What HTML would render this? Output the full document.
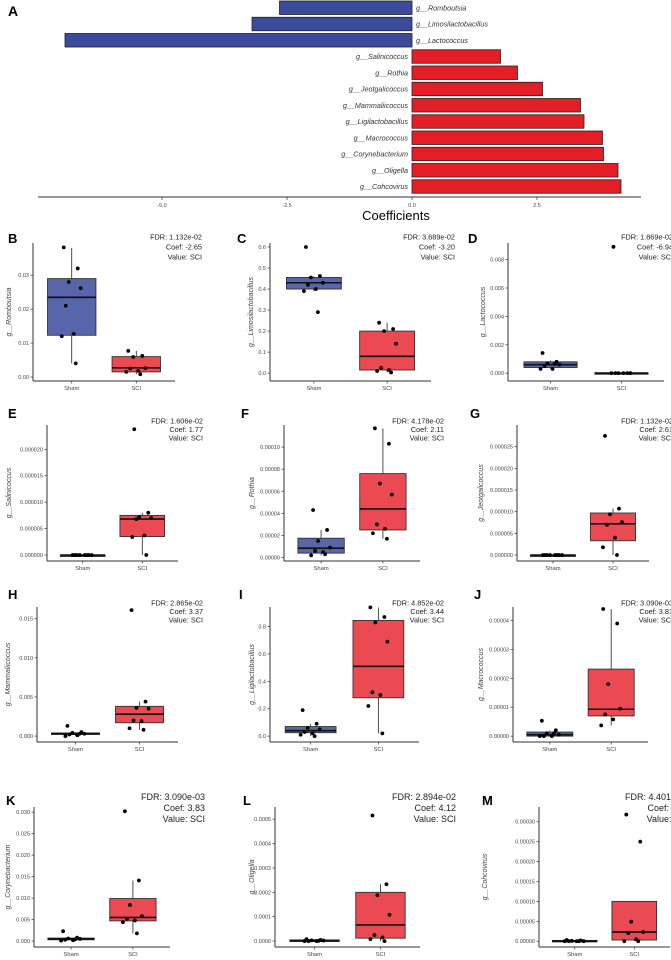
<!DOCTYPE html>
<html><head><meta charset="utf-8">
<style>
html,body{margin:0;padding:0;background:#fff;}
svg{display:block;font-family:"Liberation Sans",Arial,sans-serif;}
</style></head>
<body>
<svg id="fig" width="671" height="960" viewBox="0 0 671 960"></svg>
<script>
// ===== Panel A data =====
const coefNames = ["Romboutsia","Limosilactobacillus","Lactococcus","Salinicoccus","Rothia","Jeotgalicoccus","Mammaliicoccus","Ligilactobacillus","Macrococcus","Corynebacterium","Oligella","Cohcovirus"];
const coefValues = [-2.65,-3.20,-6.94,1.77,2.11,2.61,3.37,3.44,3.81,3.83,4.12,4.18];
const coefTicks = [-5.0,-2.5,0.0,2.5];
const coefTickLabels = ["-5.0","-2.5","0.0","2.5"];

// ===== Box panels data =====
const panelLetters = ["B","C","D","E","F","G","H","I","J","K","L","M"];
const panelGenus = ["Romboutsia","Limosilactobacillus","Lactococcus","Salinicoccus","Rothia","Jeotgalicoccus","Mammaliicoccus","Ligilactobacillus","Macrococcus","Corynebacterium","Oligella","Cohcovirus"];
const panelFdr = ["1.132e-02","3.689e-02","1.869e-02","1.606e-02","4.178e-02","1.132e-02","2.865e-02","4.852e-02","3.090e-03","3.090e-03","2.894e-02","4.401e-02"];
const panelCoef = ["-2.65","-3.20","-6.94","1.77","2.11","2.61","3.37","3.44","3.81","3.83","4.12","4.18"];
const groups = ["Sham","SCI"];
const yMinB=-0.0003, yMaxB=0.0395, ticksB=["0.00","0.01","0.02","0.03"];
const shamStatsB=[0.004,0.0123,0.0235,0.029,0.038], sciStatsB=[0.0008,0.0015,0.0027,0.006,0.0077];
const shamPtsB=[0.0382,0.032,0.028,0.0262,0.021,0.0127,0.012,0.004], sciPtsB=[0.0077,0.0062,0.0059,0.0026,0.0025,0.0018,0.0015,0.0008];
const yMinC=-0.023, yMaxC=0.619, ticksC=["0.0","0.1","0.2","0.3","0.4","0.5","0.6"];
const shamStatsC=[0.39,0.40,0.43,0.455,0.46], sciStatsC=[0.003,0.015,0.08,0.2,0.24];
const shamPtsC=[0.6,0.462,0.455,0.43,0.42,0.40,0.39,0.29], sciPtsC=[0.24,0.21,0.2,0.14,0.025,0.015,0.01,0.003];
const yMinD=-0.00034, yMaxD=0.00917, ticksD=["0.000","0.002","0.004","0.006","0.008"];
const shamStatsD=[0.0003,0.0004,0.0006,0.0008,0.0009], sciStatsD=[0,0,0,0.00003,0.00003];
const shamPtsD=[0.00142,0.0008,0.0007,0.0006,0.0005,0.0003,0.0003,0.00065], sciPtsD=[0.0089,0,0,0,0,0,0];
const yMinE=-5.6e-7, yMaxE=2.46e-5, ticksE=["0.000000","0.000005","0.000010","0.000015","0.000020"];
const shamStatsE=[0,0,0,0,0], sciStatsE=[0,3.5e-6,6.8e-6,7.5e-6,8e-6];
const shamPtsE=[0,0,0,0,0,0,0,0], sciPtsE=[2.38e-5,8e-6,7.2e-6,7e-6,6.8e-6,3.7e-6,3.4e-6,0];
const yMinF=-4e-7, yMaxF=1.2e-4, ticksF=["0.00000","0.00002","0.00004","0.00006","0.00008","0.00010"];
const shamStatsF=[2e-6,4e-6,8.5e-6,1.75e-5,2.5e-5], sciStatsF=[1.7e-5,2.5e-5,4.4e-5,7.6e-5,1.17e-4];
const shamPtsF=[4.3e-5,2.5e-5,1.5e-5,9e-6,6e-6,5e-6,2e-6,3e-6], sciPtsF=[1.17e-4,1.03e-4,6.7e-5,5.7e-5,3e-5,2.6e-5,2.2e-5,1.7e-5];
const yMinG=-6.8e-7, yMaxG=3.0e-5, ticksG=["0.000000","0.000005","0.000010","0.000015","0.000020","0.000025"];
const shamStatsG=[0,0,0,0,0], sciStatsG=[0,3.3e-6,7.2e-6,9.7e-6,1.07e-5];
const shamPtsG=[0,0,0,0,0,0,0,0], sciPtsG=[2.75e-5,1.07e-5,9.4e-6,7.6e-6,7e-6,4e-6,1.8e-6,0];
const yMinH=-0.000375, yMaxH=0.0165, ticksH=["0.000","0.005","0.010","0.015"];
const shamStatsH=[0,0.0002,0.0003,0.0004,0.0005], sciStatsH=[0.0008,0.0017,0.0028,0.0038,0.0044];
const shamPtsH=[0.0013,0.0005,0.0004,0.0003,0.0002,0.0001,0,0.0003], sciPtsH=[0.0161,0.0044,0.0036,0.0035,0.002,0.0019,0.001,0.0008];
const yMinI=-0.021, yMaxI=0.943, ticksI=["0.0","0.2","0.4","0.6","0.8"];
const shamStatsI=[0,0.025,0.04,0.07,0.09], sciStatsI=[0.02,0.28,0.51,0.845,0.94];
const shamPtsI=[0.19,0.09,0.06,0.05,0.03,0.02,0.01,0], sciPtsI=[0.94,0.87,0.83,0.69,0.32,0.30,0.22,0.02];
const yMinJ=-1e-6, yMaxJ=4.47e-5, ticksJ=["0.00000","0.00001","0.00002","0.00003","0.00004"];
const shamStatsJ=[0,0,5e-7,1.4e-6,2e-6], sciStatsJ=[3.7e-6,7e-6,9.3e-6,2.32e-5,4.4e-5];
const shamPtsJ=[5.3e-6,2e-6,1e-6,5e-7,0,0,0,1e-6], sciPtsJ=[4.4e-5,3.9e-5,1.8e-5,9.5e-6,7.5e-6,5.8e-6,3.7e-6];
const yMinK=-0.00068, yMaxK=0.0312, ticksK=["0.000","0.005","0.010","0.015","0.020","0.025","0.030"];
const shamStatsK=[0.0001,0.0003,0.0005,0.0007,0.0008], sciStatsK=[0.0018,0.0047,0.0055,0.0099,0.0141];
const shamPtsK=[0.0023,0.0008,0.0006,0.0005,0.0003,0.0002,0.0001,0.0004], sciPtsK=[0.0302,0.0141,0.0084,0.0058,0.0052,0.0048,0.0044,0.0018];
const yMinL=-1.2e-5, yMaxL=0.00055, ticksL=["0.0000","0.0001","0.0002","0.0003","0.0004","0.0005"];
const shamStatsL=[0,0,0,5e-6,8e-6], sciStatsL=[0,1.2e-5,6.6e-5,2e-4,2.33e-4];
const shamPtsL=[8e-6,5e-6,3e-6,2e-6,0,0,0,1e-6], sciPtsL=[5.15e-4,2.33e-4,1.88e-4,1.08e-4,2.5e-5,1.5e-5,8e-6,0];
const yMinM=-7e-6, yMaxM=3.37e-4, ticksM=["0.00000","0.00005","0.00010","0.00015","0.00020","0.00025","0.00030"];
const shamStatsM=[0,0,0,2e-6,3e-6], sciStatsM=[0,3e-6,2.3e-5,1e-4,1e-4];
const shamPtsM=[3e-6,2e-6,1e-6,0,0,0,0,0], sciPtsM=[3.18e-4,2.5e-4,4.9e-5,2.3e-5,2e-5,5e-6,0,0];

const yMins=[yMinB,yMinC,yMinD,yMinE,yMinF,yMinG,yMinH,yMinI,yMinJ,yMinK,yMinL,yMinM];
const yMaxs=[yMaxB,yMaxC,yMaxD,yMaxE,yMaxF,yMaxG,yMaxH,yMaxI,yMaxJ,yMaxK,yMaxL,yMaxM];
const tickSets=[ticksB,ticksC,ticksD,ticksE,ticksF,ticksG,ticksH,ticksI,ticksJ,ticksK,ticksL,ticksM];
const shamStats=[shamStatsB,shamStatsC,shamStatsD,shamStatsE,shamStatsF,shamStatsG,shamStatsH,shamStatsI,shamStatsJ,shamStatsK,shamStatsL,shamStatsM];
const sciStats=[sciStatsB,sciStatsC,sciStatsD,sciStatsE,sciStatsF,sciStatsG,sciStatsH,sciStatsI,sciStatsJ,sciStatsK,sciStatsL,sciStatsM];
const shamPts=[shamPtsB,shamPtsC,shamPtsD,shamPtsE,shamPtsF,shamPtsG,shamPtsH,shamPtsI,shamPtsJ,shamPtsK,shamPtsL,shamPtsM];
const sciPts=[sciPtsB,sciPtsC,sciPtsD,sciPtsE,sciPtsF,sciPtsG,sciPtsH,sciPtsI,sciPtsJ,sciPtsK,sciPtsL,sciPtsM];

// ===== Layout (pixels, not data) =====
const L = {
  axisX:[33,270,508, 47,284,517, 37,270,513, 34,275,539],
  rightX:[175,431,664, 178,420,649, 178,419,648, 170,420,670],
  rowTop:[243,425,607,807], rowBot:[381,561,742,947],
  titleX:[9,251,483, 9,252,481, 8,252,481, 8,252,485],
  letterX:[8,237,468, 8,241,470, 8,239,474, 6,243,482],
  letterY:[243,418,599,805],
  annoX:[202,455,673, 203,444,673, 203,444,673, 205,456,689],
  annoY:[237,421,603,797], annoStep:[10,9,9,11,8,11], 
};
const jitter=[-8,6,-3,9,-6,2,-10,4];
const NS="http://www.w3.org/2000/svg";
const svg=document.getElementById('fig');
function mk(tag,attrs,parent){const e=document.createElementNS(NS,tag);for(const k in attrs)e.setAttribute(k,attrs[k]);(parent||svg).appendChild(e);return e;}

// ===== Panel A =====
const gA=mk('g',{});


const zeroX=412, pxPerUnit=50, barTop0=1, barStep=16.25, barH=13.5;
function xA(v){return zeroX+v*pxPerUnit;}
const lA=mk('text',{x:8,y:16,'font-size':14,'font-weight':'bold',fill:'#000'},gA);lA.textContent='A';


coefValues.forEach((v,i)=>{
  const y=barTop0+i*barStep;
  const r=mk('rect',{x:Math.min(xA(0),xA(v)),y:y,width:Math.abs(xA(v)-xA(0)),height:barH,fill:v<0?'#3b4a9b':'#e41e26',stroke:'#222','stroke-width':0.8},gA);
  
  
  const t=mk('text',{x:v<0?xA(0)+4:xA(0)-4,y:y+barH/2+2.5,'font-size':7.2,'font-style':'italic',fill:'#333','text-anchor':v<0?'start':'end'},gA);
  t.textContent='g__'+coefNames[i];
  
  
});
const axA=mk('line',{x1:38,x2:641,y1:197,y2:197,stroke:'#333','stroke-width':1},gA);


coefTicks.forEach((v,i)=>{
  mk('line',{x1:xA(v),x2:xA(v),y1:197,y2:200,stroke:'#333','stroke-width':0.7},gA);
  const t=mk('text',{x:xA(v),y:207,'font-size':5.5,fill:'#444','text-anchor':'middle'},gA);
  t.textContent=coefTickLabels[i];
  
  
});
const xt=mk('text',{x:xA(0)-16,y:220,'font-size':13,fill:'#000','text-anchor':'middle'},gA);xt.textContent='Coefficients';



// ===== Box panels =====
panelLetters.forEach((letter,p)=>{
  const row=Math.floor(p/3);
  const g=mk('g',{});
  
  
  const ax=L.axisX[p], rx=L.rightX[p], top=L.rowTop[row], bot=L.rowBot[row];
  const yMin=yMins[p], yMax=yMaxs[p];
  const yS=v=>bot-3-(v-yMin)/(yMax-yMin)*(bot-3-top);
  const w=rx-ax;
  const xS=i=>ax+w*(0.6+i)/2.2;
  const half=w*0.375/2.2;
  const big=row===3;
  // letter
  const lt=mk('text',{x:L.letterX[p],y:L.letterY[row],'font-size':13,'font-weight':'bold',fill:'#000'},g);lt.textContent=letter;
  
  
  // axes
  const ya=mk('line',{x1:ax,x2:ax,y1:top,y2:bot,stroke:'#333','stroke-width':1},g);
  
  
  const xa=mk('line',{x1:ax,x2:rx,y1:bot,y2:bot,stroke:'#333','stroke-width':1},g);
  
  
  tickSets[p].forEach(lbl=>{
    const v=parseFloat(lbl), y=yS(v);
    mk('line',{x1:ax-2.5,x2:ax,y1:y,y2:y,stroke:'#333','stroke-width':0.7},g);
    const t=mk('text',{x:ax-4,y:y+2,'font-size':5.5,fill:'#444','text-anchor':'end'},g);
    t.textContent=lbl;
    
    
  });
  groups.forEach((gname,i)=>{
    mk('line',{x1:xS(i),x2:xS(i),y1:bot,y2:bot+2.5,stroke:'#333','stroke-width':0.7},g);
    const t=mk('text',{x:xS(i),y:bot+9,'font-size':5.8,fill:'#444','text-anchor':'middle'},g);
    t.textContent=gname;
    
    
  });
  // y title
  const cy=(top+bot)/2;
  const yt=mk('text',{x:L.titleX[p],y:cy,'font-size':7,'font-style':'italic',fill:'#444','text-anchor':'middle',transform:`rotate(-90 ${L.titleX[p]} ${cy})`,'dominant-baseline':'middle'},g);
  yt.textContent='g__'+panelGenus[p];
  
  
  // boxes
  [shamStats[p],sciStats[p]].forEach((s,i)=>{
    const cx=xS(i);
    const wl=mk('line',{x1:cx,x2:cx,y1:yS(s[4]),y2:yS(s[0]),stroke:'#222','stroke-width':0.8},g);
    
    
    const h=Math.max(1.5,yS(s[1])-yS(s[3]));
    const b=mk('rect',{x:cx-half,y:yS(s[3]),width:half*2,height:h,fill:i===0?'#5865a8':'#ec4a52',stroke:'#333','stroke-width':0.9},g);
    
    
    const m=mk('line',{x1:cx-half,x2:cx+half,y1:yS(s[2]),y2:yS(s[2]),stroke:'#111','stroke-width':1.6},g);
    
    
  });
  [shamPts[p],sciPts[p]].forEach((pts,i)=>{
    pts.forEach((v,k)=>{
      const c=mk('circle',{cx:xS(i)+jitter[k%jitter.length],cy:yS(v),r:1.9,fill:'#000'},g);
      
      
    });
  });
  // annotation
  const fs=big?9:7.3, step=big?11:(row===0?10:8.5);
  const lines=['FDR: '+panelFdr[p],'Coef: '+panelCoef[p],'Value: SCI'];
  lines.forEach((s,k)=>{
    const t=mk('text',{x:L.annoX[p],y:L.annoY[row]+k*step+(big?3:2.5),'font-size':fs,fill:'#222','text-anchor':'end'},g);
    t.textContent=s;
    
    
  });
});
</script>
</body></html>
